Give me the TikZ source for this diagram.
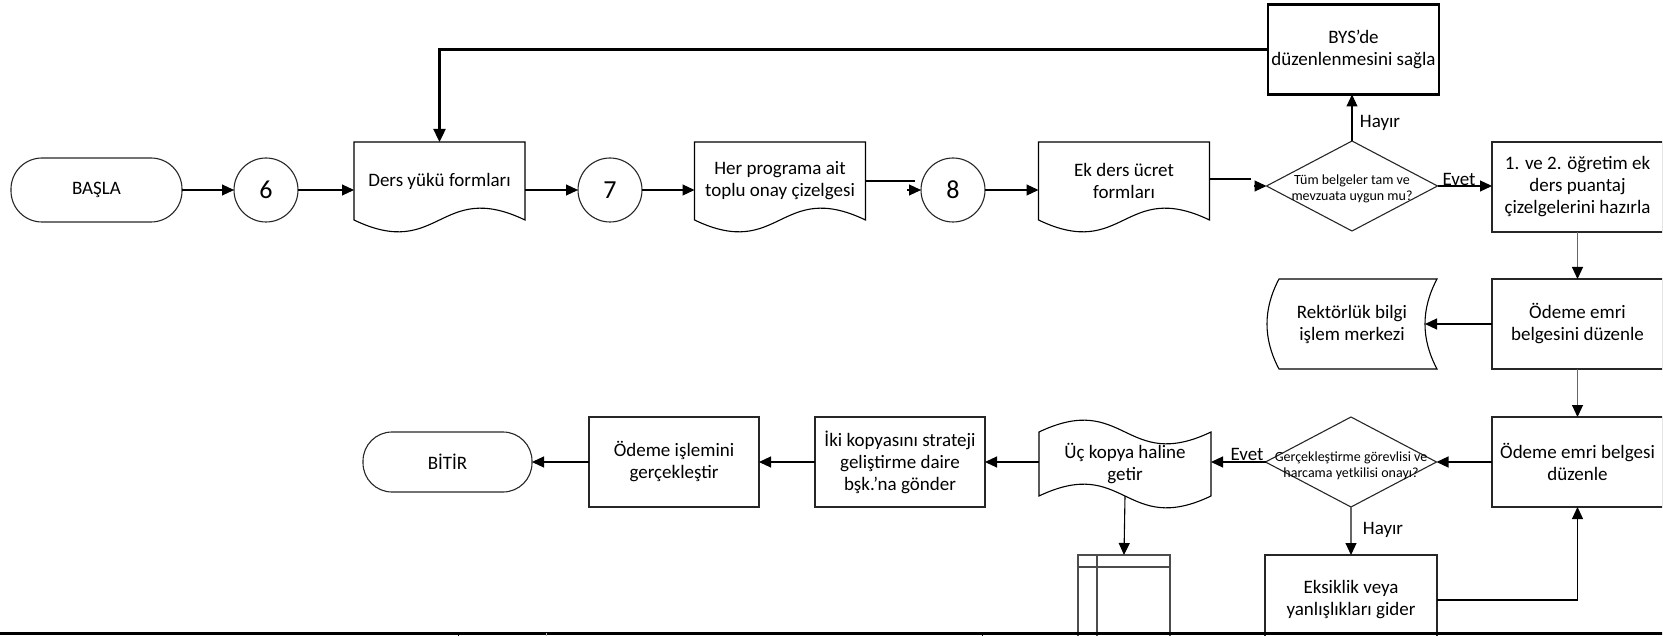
\documentclass[tikz,border=0pt]{standalone}
\usepackage{fontspec}
\setmainfont{Carlito}
\usetikzlibrary{arrows.meta,calc,shapes.geometric}
\newcommand{\mydocshape}[1]{\draw[shapeline] (#1.north west) -- (#1.south west) .. controls ($(#1.south)+(0,41)$) and ($(#1.south)+(0,-41)$) .. (#1.south east) -- (#1.north east) -- cycle;}
\begin{document}
\begin{tikzpicture}[x=1pt,y=-1pt,
  every node/.style={inner sep=0pt, outer sep=0pt, align=center, font=\fontsize{19}{22}\selectfont},
  shapeline/.style={draw=black, line width=1.1pt},
  arr/.style={-{Triangle[length=12pt,width=11pt]}, line width=1.1pt},
  garr/.style={-{Triangle[length=12pt,width=11pt,color=black]}, line width=1.1pt, draw=black!60},
  conn/.style={line width=1.1pt},
  thickarr/.style={-{Triangle[length=13pt,width=12pt]}, line width=2.4pt},
  procbox/.style={draw=black!85, line width=1.1pt, minimum width=171pt, minimum height=90pt},
  docghost/.style={minimum width=171pt, minimum height=78pt},
  termshape/.style={draw=black!85, line width=1.1pt, rounded corners=31pt, minimum width=171pt, minimum height=64pt},
  conncircle/.style={circle, draw=black!85, line width=1.1pt, minimum size=64pt, font=\fontsize{26}{30}\selectfont},
  decision/.style={diamond, draw=black!85, line width=1.1pt, minimum width=171pt, minimum height=90pt, aspect=1.9},
  smalltext/.style={font=\fontsize{14}{16}\selectfont}
]
\useasboundingbox (0,0) rectangle (1663,636);
\clip (0,0) rectangle (1662,636);

% row 1
\node[termshape] (start) at (96.5,190) {BAŞLA};
\node[conncircle] (c6) at (266,190) {6};
\node[docghost] (ders) at (439.5,181) {Ders yükü formları};
\mydocshape{ders}
\node[conncircle] (c7) at (610,190) {7};
\node[docghost] (her) at (780,181) {Her programa ait\\toplu onay çizelgesi};
\mydocshape{her}
\node[conncircle] (c8) at (953,190) {8};
\node[docghost] (ek) at (1124,181) {Ek ders ücret\\formları};
\mydocshape{ek}
\node[decision] (d1) at (1352,186) {};
\node[smalltext] (d1t) at (1352,189) {Tüm belgeler tam ve\\mevzuata uygun mu?};
\node[procbox, line width=2.4pt, draw=black] (bys) at (1353.5,49.5) {BYS’de\\düzenlenmesini sağla};
\node[procbox] (box1) at (1577.5,187) {1. ve 2. öğretim ek\\ders puantaj\\çizelgelerini hazırla};

% right column
\node[procbox] (box2) at (1577.5,324) {Ödeme emri\\belgesini düzenle};
\node[minimum width=170pt, minimum height=90pt] (rek) at (1352,324) {Rektörlük bilgi\\işlem merkezi};
\draw[shapeline] ($(rek.north west)+(12,0)$) -- (rek.north east)
  .. controls ($(rek.north east)+(-16,30)$) and ($(rek.south east)+(-16,-30)$) .. (rek.south east)
  -- ($(rek.south west)+(12,0)$)
  .. controls ($(rek.south west)+(-4,-30)$) and ($(rek.north west)+(-4,30)$) .. cycle;
\coordinate (rekin) at ($(rek.east)+(-12,0)$);
\node[procbox] (box3) at (1577.5,462) {Ödeme emri belgesi\\düzenle};

% row 3
\node[decision] (d2) at (1351,462) {};
\node[smalltext] (d2t) at (1351,466) {Gerçekleştirme görevlisi ve\\harcama yetkilisi onayı?};
\node[minimum width=172pt, minimum height=64pt] (tape) at (1125,464) {Üç kopya haline\\getir};
\draw[shapeline] (tape.north west)
  .. controls ($(tape.north)+(0,-41)$) and ($(tape.north)+(0,41)$) .. (tape.north east)
  -- (tape.south east)
  .. controls ($(tape.south)+(0,41)$) and ($(tape.south)+(0,-41)$) .. (tape.south west) -- cycle;
\node[procbox, minimum width=170pt] (iki) at (900,462) {İki kopyasını strateji\\geliştirme daire\\bşk.’na gönder};
\node[procbox, minimum width=170pt] (odeme) at (674,462) {Ödeme işlemini\\gerçekleştir};
\node[termshape, minimum width=169pt, minimum height=60pt, rounded corners=29pt] (bitir) at (447.5,462) {BİTİR};
\node[procbox, minimum width=172pt] (eks) at (1351,600) {Eksiklik veya\\yanlışlıkları gider};

% table shape
\coordinate (tbl) at (1124,555);
\draw[draw=black!70, line width=1.1pt] (1078,555) rectangle (1170,660);
\draw[draw=black!70, line width=1.1pt] (1078,567) -- (1170,567) (1097,555) -- (1097,660);

% labels
\node (h1) at (1380,123) {Hayır};
\node (e1) at (1459,179) {Evet};
\node (e2) at (1247,454) {Evet};
\node (h2) at (1383,530) {Hayır};

% connectors row 1
\draw[arr] (start.east) -- (c6.west);
\draw[arr] (c6.east) -- (c6.east -| ders.west);
\draw[arr] (ders.east |- c7.west) -- (c7.west);
\draw[arr] (c7.east) -- (c7.east -| her.west);
\coordinate (j1) at (915,181);
\coordinate (j1b) at (907,190);
\draw[conn] (her.east |- j1) -- (j1);
\draw[arr] (j1b) -- (c8.west);
\draw[arr] (c8.east) -- (c8.east -| ek.west);
\coordinate (j2) at (1251,179);
\coordinate (j2b) at (1254,186);
\draw[conn] (ek.east |- j2) -- (j2);
\draw[arr] (j2b) -- (d1.west);
\draw[arr] (d1.north) -- (d1.north |- bys.south);
\draw[thickarr] (bys.west) -| (ders.north);
\draw[arr] (d1.east) -- (d1.east -| box1.west);

% right column connectors
\draw[garr] (box1.south) -- (box2.north);
\draw[arr] (box2.west) -- (rekin);
\draw[garr] (box2.south) -- (box3.north);
\draw[arr] (box3.west) -- (d2.east);
\draw[arr] (d2.west) -- (d2.west -| tape.east);
\draw[garr] (d2.south) -- (eks.north);
\draw[arr] (eks.east) -| (box3.south);
\draw[arr] (tape.west |- iki.east) -- (iki.east);
\draw[arr] (iki.west) -- (odeme.east);
\draw[arr] (odeme.west) -- (bitir.east);
\draw[arr] (tape.south) -- (tbl);

% bottom rule
\draw[line width=3pt] (0,633) -- (1663,633);
\draw[line width=1pt] (458,633) -- (458,636) (982,633) -- (982,636);
\draw[line width=1pt, draw=black!30] (546,633) -- (546,636);
\end{tikzpicture}
\end{document}
